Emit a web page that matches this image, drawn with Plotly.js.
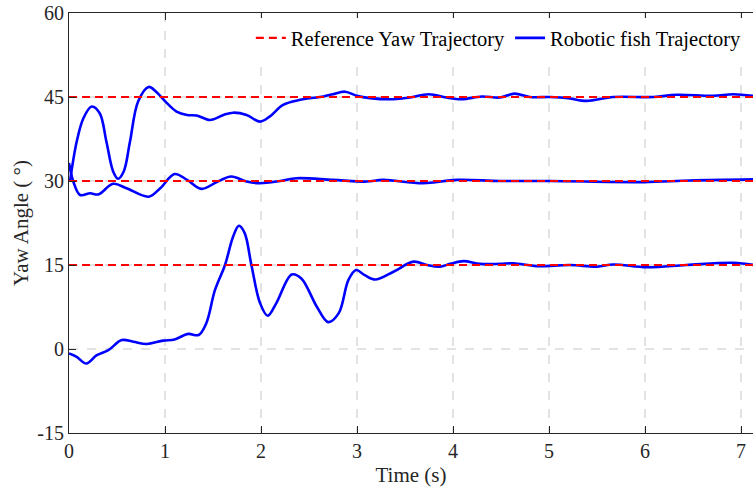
<!DOCTYPE html>
<html>
<head>
<meta charset="utf-8">
<script src="https://cdn.plot.ly/plotly-3.0.1.min.js"></script>
<style>html,body{margin:0;padding:0;background:#fff;overflow:hidden}</style>
</head>
<body>
<div id="chart" style="width:753px;height:490px"></div>
<script>
// Reference yaw levels (deg)
const refLevels = [45, 30, 15];
const refStart = 0;
const refEnd = 7.2;

// Robotic fish trajectory, target 45 deg
const t45 = [0.01,0.08,0.15,0.236,0.32,0.39,0.46,0.51,0.57,0.635,0.72,0.83,0.91,1.02,1.12,1.23,1.33,1.47,1.61,1.71,1.85,1.99,2.09,2.23,2.41,2.65,2.75,2.875,3.0,3.135,3.38,3.55,3.75,3.93,4.09,4.30,4.49,4.64,4.80,5.01,5.20,5.39,5.67,6.09,6.33,6.71,6.92,7.13];
const y45 = [29.9,37.0,41.2,43.3,42.1,37.0,31.7,30.4,31.7,37.0,44.2,46.8,45.9,43.9,42.4,41.8,41.7,40.9,41.8,42.2,41.8,40.6,41.5,43.6,44.5,45.1,45.5,45.95,45.2,44.8,44.6,44.9,45.5,44.9,44.6,45.1,44.9,45.6,45.0,45.0,44.8,44.3,45.0,45.0,45.4,45.2,45.5,45.2];

// Robotic fish trajectory, target 30 deg
const t30 = [0,0.045,0.115,0.22,0.305,0.46,0.60,0.83,0.95,1.10,1.23,1.38,1.54,1.69,1.85,1.99,2.20,2.37,2.75,3.10,3.27,3.69,4.04,4.49,5.01,5.98,6.47,7.13];
const y30 = [33.2,29.9,27.5,27.8,27.6,29.5,28.7,27.2,28.7,31.25,30.2,28.6,29.8,30.8,29.9,29.6,30.0,30.5,30.2,29.9,30.2,29.6,30.2,30.0,30.0,29.8,30.1,30.3];

// Robotic fish trajectory, target 15 deg
const t15 = [0,0.08,0.18,0.29,0.41,0.55,0.67,0.81,0.98,1.10,1.24,1.35,1.43,1.52,1.625,1.71,1.77,1.83,1.90,1.99,2.07,2.16,2.32,2.42,2.58,2.70,2.81,2.91,2.99,3.08,3.19,3.38,3.59,3.73,3.86,3.97,4.11,4.28,4.49,4.63,4.87,5.22,5.50,5.67,6.02,6.43,6.92,7.13];
const y15 = [-0.8,-1.4,-2.6,-1.1,-0.2,1.6,1.3,0.9,1.5,1.7,2.7,2.5,4.6,10.5,15.0,20.1,22.0,20.7,15.0,8.2,5.95,8.2,13.3,12.6,7.6,4.8,6.4,12.3,14.1,13.2,12.4,13.8,15.6,15.0,14.7,15.2,15.7,15.2,15.2,15.3,14.8,15.0,14.7,15.1,14.6,15.0,15.4,15.0];

const xTicks = [0,1,2,3,4,5,6,7];
const yTicks = [-15,0,15,30,45,60];
const yTickText = ['-15','0','15','30','45','60'];

const refX = [], refY = [];
refLevels.forEach(v => { refX.push(refStart, refEnd, null); refY.push(v, v, null); });

const blueLine = {color:'#0000ff', width:2.6, shape:'spline', smoothing:1};
const traces = [
  {x:t45, y:y45, mode:'lines', name:'Robotic fish Trajectory', line:blueLine, legendgroup:'fish', showlegend:true},
  {x:t30, y:y30, mode:'lines', name:'Robotic fish Trajectory', line:blueLine, legendgroup:'fish', showlegend:false},
  {x:t15, y:y15, mode:'lines', name:'Robotic fish Trajectory', line:blueLine, legendgroup:'fish', showlegend:false},
  {x:refX, y:refY, mode:'lines', name:'Reference Yaw Trajectory', line:{color:'#ff0000', width:2.2, dash:'8px,5px'}, connectgaps:false}
];

const font = {family:'"Liberation Serif", "Times New Roman", serif', color:'#262626', size:20};
const layout = {
  width:753, height:490,
  margin:{l:69, r:0, t:13, b:57},
  paper_bgcolor:'#fff', plot_bgcolor:'#fff',
  font:font,
  showlegend:true,
  legend:{orientation:'h', x:0.991, xanchor:'right', y:0.988, yanchor:'top', traceorder:'reversed', bgcolor:'#fff', font:{size:20.5, family:font.family, color:'#000'}},
  xaxis:{range:[0,7.125], tickvals:xTicks, ticks:'inside', ticklen:7, tickcolor:'#262626',
         showline:true, linecolor:'#262626', linewidth:1, mirror:'ticks',
         showgrid:true, gridcolor:'#e3e3e3', griddash:'dash', gridwidth:1.5, zeroline:false,
         title:{text:'Time (s)', font:{size:21}, standoff:6}},
  yaxis:{range:[-15,60], tickvals:yTicks, ticktext:yTickText, ticks:'inside', ticklen:7, tickcolor:'#262626',
         showline:true, linecolor:'#262626', linewidth:1,
         showgrid:true, gridcolor:'#e3e3e3', griddash:'dash', gridwidth:1.5, zeroline:false,
         title:{text:'Yaw Angle ( °)', font:{size:21}, standoff:2}}
};
Plotly.newPlot('chart', traces, layout, {displayModeBar:false, staticPlot:true});
</script>
</body>
</html>
